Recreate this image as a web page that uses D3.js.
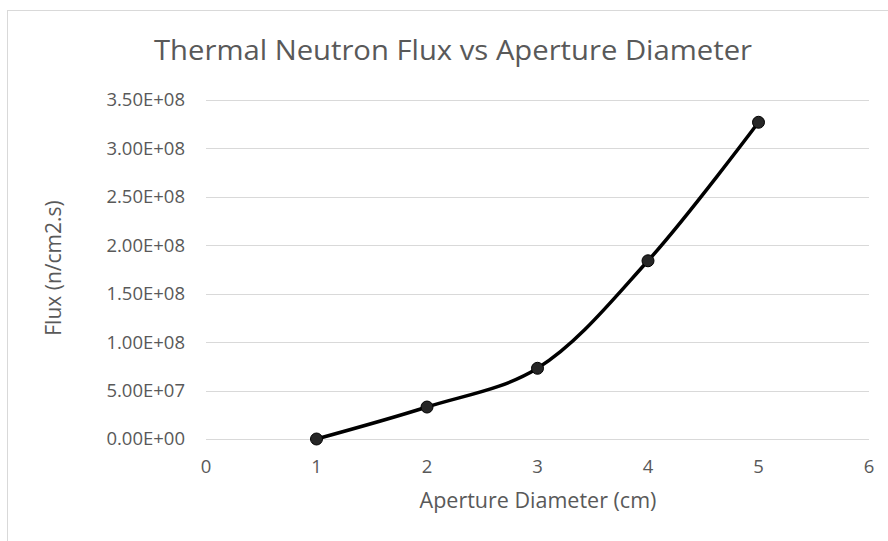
<!DOCTYPE html>
<html>
<head>
<meta charset="utf-8">
<script src="https://cdn.jsdelivr.net/npm/d3@7"></script>
<style>
  body { margin: 0; background: #fff; }
  text { font-family: "Open Sans", sans-serif; fill: #595959; }
</style>
</head>
<body>
<div id="chart"></div>
<script>
const diameters = [1, 2, 3, 4, 5];
const flux = [0, 3.3e7, 7.3e7, 1.84e8, 3.27e8];
const yTicks = [0, 5e7, 1e8, 1.5e8, 2e8, 2.5e8, 3e8, 3.5e8];
const xTicks = [0, 1, 2, 3, 4, 5, 6];

const width = 888;
const height = 541;
const margin = { top: 100, right: 19, bottom: 102, left: 206 };

const svg = d3.select('#chart')
  .append('svg')
  .attr('width', width)
  .attr('height', height);

// chart frame
svg.append('rect')
  .attr('x', 7.5)
  .attr('y', 10.5)
  .attr('width', width + 20)
  .attr('height', height + 20)
  .attr('fill', 'none')
  .attr('stroke', '#d9d9d9');

const xScale = d3.scaleLinear()
  .domain([0, 6])
  .range([margin.left, width - margin.right]);

const yScale = d3.scaleLinear()
  .domain([0, 3.5e8])
  .range([height - margin.bottom, margin.top]);

const fmt = (v) => {
  const s = v.toExponential(2).toUpperCase();
  return s.replace(/E([+-])(\d)$/, 'E$10$2');
};

// gridlines
svg.append('g')
  .attr('class', 'grid')
  .selectAll('line')
  .data(yTicks)
  .enter().append('line')
  .attr('x1', xScale(0))
  .attr('x2', xScale(6))
  .attr('y1', (d) => Math.round(yScale(d)) + 0.5)
  .attr('y2', (d) => Math.round(yScale(d)) + 0.5)
  .attr('stroke', '#d9d9d9')
  .attr('stroke-width', 1);

// y tick labels
svg.append('g')
  .selectAll('text')
  .data(yTicks)
  .enter().append('text')
  .attr('x', 185)
  .attr('y', (d) => yScale(d))
  .attr('dy', '0.35em')
  .attr('text-anchor', 'end')
  .style('font-size', '18.5px')
  .text(fmt);

// x tick labels
svg.append('g')
  .selectAll('text')
  .data(xTicks)
  .enter().append('text')
  .attr('x', (d) => xScale(d))
  .attr('y', yScale(0) + 28)
  .attr('dy', '0.35em')
  .attr('text-anchor', 'middle')
  .style('font-size', '18.5px')
  .text((d) => d);

const data = diameters.map((d, i) => ({ x: d, y: flux[i] }));

const line = d3.line()
  .x((d) => xScale(d.x))
  .y((d) => yScale(d.y))
  .curve(d3.curveCatmullRom.alpha(0.5));

svg.append('path')
  .datum(data)
  .attr('fill', 'none')
  .attr('stroke', '#000')
  .attr('stroke-width', 3.5)
  .attr('stroke-linejoin', 'round')
  .attr('d', line);

svg.append('g')
  .selectAll('circle')
  .data(data)
  .enter().append('circle')
  .attr('cx', (d) => xScale(d.x))
  .attr('cy', (d) => yScale(d.y))
  .attr('r', 6)
  .attr('fill', '#262626')
  .attr('stroke', '#000')
  .attr('stroke-width', 1);

// title
svg.append('text')
  .attr('x', 453)
  .attr('y', 50)
  .attr('dy', '0.35em')
  .attr('text-anchor', 'middle')
  .attr('textLength', 598)
  .attr('lengthAdjust', 'spacingAndGlyphs')
  .style('font-size', '28px')
  .text('Thermal Neutron Flux vs Aperture Diameter');

svg.append('text')
  .attr('x', 538)
  .attr('y', 500)
  .attr('dy', '0.35em')
  .attr('text-anchor', 'middle')
  .style('font-size', '21.5px')
  .text('Aperture Diameter (cm)');

svg.append('text')
  .attr('transform', `translate(54,${268}) rotate(-90)`)
  .attr('dy', '0.35em')
  .attr('text-anchor', 'middle')
  .style('font-size', '21px')
  .text('Flux (n/cm2.s)');
</script>
</body>
</html>
